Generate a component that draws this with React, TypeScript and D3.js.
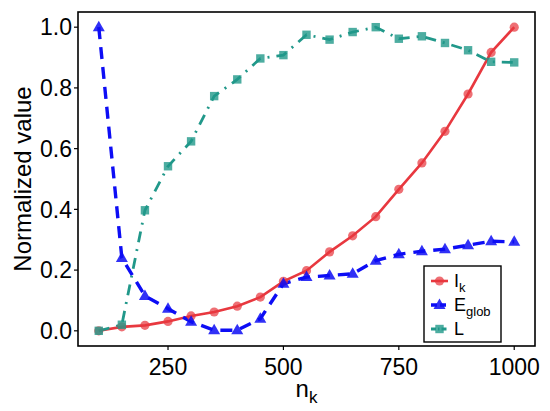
import { scaleLinear, line } from "d3";

const nk = [100, 150, 200, 250, 300, 350, 400, 450, 500, 550, 600, 650, 700, 750, 800, 850, 900, 950, 1000];
const ik = [0, 0.013, 0.018, 0.031, 0.049, 0.062, 0.081, 0.111, 0.163, 0.198, 0.26, 0.313, 0.376, 0.466, 0.553, 0.657, 0.78, 0.917, 1.0];
const eglob = [1.0, 0.24, 0.115, 0.073, 0.03, 0.002, 0.002, 0.04, 0.155, 0.177, 0.182, 0.188, 0.231, 0.252, 0.262, 0.269, 0.282, 0.295, 0.293];
const lValues = [0, 0.02, 0.397, 0.542, 0.624, 0.773, 0.828, 0.897, 0.908, 0.975, 0.959, 0.984, 1.0, 0.962, 0.97, 0.948, 0.924, 0.886, 0.884];

const xTicks = [250, 500, 750, 1000];
const yTicks = [0, 0.2, 0.4, 0.6, 0.8, 1.0];

const width = 550;
const height = 411;
const panel = { left: 78, right: 535, top: 12, bottom: 346 };

const RED = "#E8383F";
const BLUE = "#0D0DF5";
const TEAL = "#21988A";
const FONT = "Liberation Sans, Arial, sans-serif";

const x = scaleLinear().domain([55, 1045]).range([panel.left, panel.right]);
const y = scaleLinear().domain([-0.05, 1.05]).range([panel.bottom, panel.top]);

const pathFor = (vals: number[]) =>
  line<number>()
    .x((_, i) => x(nk[i]))
    .y((d) => y(d))(vals)!;

const circle = (cx: number, cy: number, key: string | number) => (
  <circle key={key} cx={cx} cy={cy} r={4.6} fill={RED} fillOpacity={0.72} />
);
const triangle = (cx: number, cy: number, key: string | number) => (
  <path
    key={key}
    d={`M${cx},${cy - 6.5} L${cx + 6},${cy + 4} L${cx - 6},${cy + 4} Z`}
    fill={BLUE}
    fillOpacity={0.85}
  />
);
const square = (cx: number, cy: number, key: string | number) => (
  <rect key={key} x={cx - 4.2} y={cy - 4.2} width={8.4} height={8.4} fill={TEAL} fillOpacity={0.8} />
);

const App = () => {
  const legendRows = [
    { label: "I", sub: "k", color: RED, dash: undefined, w: 2.6, marker: circle },
    { label: "E", sub: "glob", color: BLUE, dash: "6,3", w: 3.4, marker: triangle },
    { label: "L", sub: "", color: TEAL, dash: "5,2,1.5,2", w: 2.8, marker: square },
  ];

  return (
    <svg width={width} height={height} style={{ display: "block", margin: "-8px" }}>
      <rect width={width} height={height} fill="#fff" />

      {/* lines */}
      <path d={pathFor(ik)} fill="none" stroke={RED} strokeWidth={2.6} />
      <path d={pathFor(eglob)} fill="none" stroke={BLUE} strokeWidth={3.4} strokeDasharray="12,8" />
      <path d={pathFor(lValues)} fill="none" stroke={TEAL} strokeWidth={2.8} strokeDasharray="11,7,2,7" />

      {/* points */}
      {ik.map((d, i) => circle(x(nk[i]), y(d), `c${i}`))}
      {eglob.map((d, i) => triangle(x(nk[i]), y(d), `t${i}`))}
      {lValues.map((d, i) => square(x(nk[i]), y(d), `s${i}`))}

      {/* panel border */}
      <rect
        x={panel.left}
        y={panel.top}
        width={panel.right - panel.left}
        height={panel.bottom - panel.top}
        fill="none"
        stroke="#000"
        strokeWidth={1.6}
      />

      {/* y axis */}
      {yTicks.map((t) => (
        <g key={t}>
          <line x1={panel.left - 4} x2={panel.left} y1={y(t)} y2={y(t)} stroke="#000" strokeWidth={1.2} />
          <text x={panel.left - 6} y={y(t)} dy="0.36em" textAnchor="end" fontFamily={FONT} fontSize={23} fill="#000">
            {t.toFixed(1)}
          </text>
        </g>
      ))}

      {/* x axis */}
      {xTicks.map((t) => (
        <g key={t}>
          <line x1={x(t)} x2={x(t)} y1={panel.bottom} y2={panel.bottom + 4} stroke="#000" strokeWidth={1.2} />
          <text x={x(t)} y={375} textAnchor="middle" fontFamily={FONT} fontSize={23} fill="#000">
            {t}
          </text>
        </g>
      ))}

      {/* axis titles */}
      <text x={(panel.left + panel.right) / 2} y={397} textAnchor="middle" fontFamily={FONT} fontSize={24} fill="#000">
        n<tspan fontSize={17} dy={6}>k</tspan>
      </text>
      <text
        transform={`translate(31,${(panel.top + panel.bottom) / 2}) rotate(-90)`}
        textAnchor="middle"
        fontFamily={FONT}
        fontSize={24}
        fill="#000"
      >
        Normalized value
      </text>

      {/* legend */}
      <rect x={424} y={266} width={77} height={76} fill="#fff" stroke="#000" strokeWidth={1.4} />
      {legendRows.map((r, i) => {
        const cy = 281 + i * 24;
        return (
          <g key={r.label}>
            <line x1={431} x2={448} y1={cy} y2={cy} stroke={r.color} strokeWidth={r.w} strokeDasharray={r.dash} />
            {r.marker(439.5, cy, `lg${i}`)}
            <text x={454} y={cy + 6} fontFamily={FONT} fontSize={18} fill="#000">
              {r.label}
              {r.sub && (
                <tspan fontSize={13} dy={5}>
                  {r.sub}
                </tspan>
              )}
            </text>
          </g>
        );
      })}
    </svg>
  );
};

export default App;
